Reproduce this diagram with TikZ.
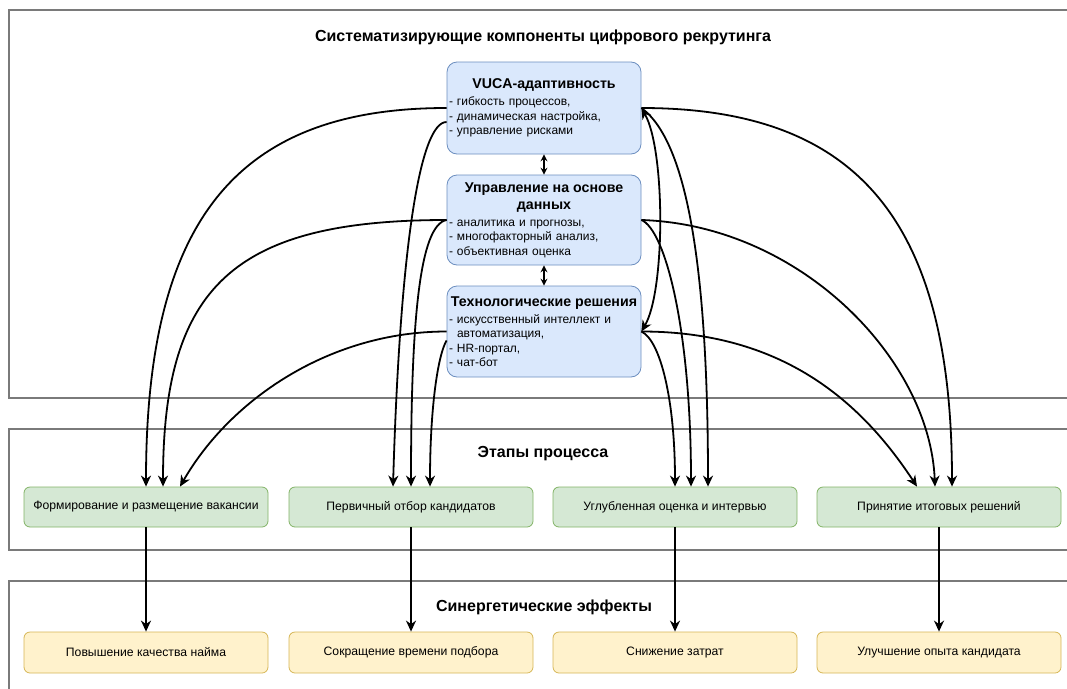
\documentclass[tikz,border=0pt]{standalone}
\usepackage{fontspec}
\setmainfont{Liberation Sans}
\usetikzlibrary{arrows.meta,calc}

\definecolor{bluefill}{HTML}{DAE8FC}
\definecolor{bluedraw}{HTML}{6C8EBF}
\definecolor{greenfill}{HTML}{D5E8D4}
\definecolor{greendraw}{HTML}{82B366}
\definecolor{yellowfill}{HTML}{FFF2CC}
\definecolor{yellowdraw}{HTML}{D6B656}
\definecolor{framegray}{HTML}{7A7A7A}

% bold centred heading inside a component box
\newcommand{\comptitle}[1]{{\centering\fontsize{14.2}{17}\selectfont\bfseries #1\par}\vspace{2.5pt}}

\tikzset{
  container/.style={draw=framegray, line width=1.3pt},
  sectiontitle/.style={font=\fontsize{16}{18}\selectfont\bfseries, inner sep=0pt},
  component/.style={draw=bluedraw, fill=bluefill, rounded corners=10pt, line width=0.8pt,
    minimum width=194pt, text width=190pt, inner xsep=2pt, align=left,
    font=\fontsize{12}{14.5}\selectfont},
  stagebox/.style={draw=greendraw, fill=greenfill, rounded corners=6pt, line width=0.8pt,
    minimum width=244pt, minimum height=40pt, font=\fontsize{12.2}{14}\selectfont},
  effectbox/.style={draw=yellowdraw, fill=yellowfill, rounded corners=6pt, line width=0.8pt,
    minimum width=244pt, minimum height=41pt, font=\fontsize{12.2}{14}\selectfont},
  tip/.tip={Stealth[length=11pt,width=10pt,inset=3.5pt]},
  smalltip/.tip={Stealth[length=7pt,width=7pt,inset=2.5pt]},
  link/.style={line width=1.8pt, -tip},
  twoway/.style={line width=1.8pt, tip-tip},
  shortlink/.style={line width=1.3pt, smalltip-smalltip}
}

\begin{document}
\begin{tikzpicture}[x=1pt, y=-1pt]
\useasboundingbox (0,0) rectangle (1067,688);

% section frames (they run past the right edge)
\draw[container] (1090,10) -- (9,10) -- (9,398) -- (1090,398);
\draw[container] (1090,429) -- (9,429) -- (9,550) -- (1090,550);
\draw[container] (1090,581) -- (9,581) -- (9,700);

% section headings
\node[sectiontitle] (t1) at (543,37) {Систематизирующие компоненты цифрового рекрутинга};
\node[sectiontitle] (t2) at (543,454) {Этапы процесса};
\node[sectiontitle] (t3) at (544,607) {Синергетические эффекты};

% components
\node[component, minimum height=92pt] (vuca) at (544,108)
  {\comptitle{VUCA-адаптивность}- гибкость процессов,\\- динамическая настройка,\\- управление рисками};
\node[component, minimum height=90pt] (data) at (544,220)
  {\comptitle{Управление на основе\\данных}- аналитика и прогнозы,\\- многофакторный анализ,\\- объективная оценка};
\node[component, minimum height=91pt] (tech) at (544,331.5)
  {\comptitle{Технологические решения}- искусственный интеллект и\\\hspace*{8pt}автоматизация,\\- HR-портал,\\- чат-бот};

% process stages
\node[stagebox] (g1) at (146,507) {Формирование и размещение вакансии};
\node[stagebox] (g2) at (411,507) {Первичный отбор кандидатов};
\node[stagebox] (g3) at (675,507) {Углубленная оценка и интервью};
\node[stagebox] (g4) at (939,507) {Принятие итоговых решений};

% effects
\node[effectbox] (y1) at (146,652.5) {Повышение качества найма};
\node[effectbox] (y2) at (411,652.5) {Сокращение времени подбора};
\node[effectbox] (y3) at (675,652.5) {Снижение затрат};
\node[effectbox] (y4) at (939,652.5) {Улучшение опыта кандидата};

% links between components
\draw[shortlink] (vuca.south) -- (data.north);
\draw[shortlink] (data.south) -- (tech.north);
\draw[twoway] (vuca.east) .. controls +(24,42) and +(24,-41) .. (tech.east);

% components to stages, left side
\draw[link] (vuca.west) .. controls +(-211,0) and +(0,-265) .. (g1.north);
\draw[link] ($(vuca.west)+(0,14)$) .. controls +(-27,0) and +(7,-237) .. ($(g2.north)+(-18,0)$);
\draw[link] (data.west) .. controls +(-213,0) and +(0,-200) .. ($(g1.north)+(17,0)$);
\draw[link] (data.west) .. controls +(-27,5) and +(0,-167) .. (g2.north);
\draw[link] (tech.west) .. controls +(-117,0) and +(50,-87) .. ($(g1.north)+(34,0)$);
\draw[link] ($(tech.west)+(0,9)$) .. controls +(-9,15) and +(0,-77) .. ($(g2.north)+(19,0)$);

% components to stages, right side
\draw[link] (vuca.east) .. controls +(217,0) and +(0,-265) .. ($(g4.north)+(13,0)$);
\draw[link] (vuca.east) .. controls +(44,32) and +(0,-227) .. ($(g3.north)+(33,0)$);
\draw[link] (data.east) .. controls +(159,5) and +(-5,-127) .. ($(g4.north)+(-4,0)$);
\draw[link] (data.east) .. controls +(24,10) and +(0,-157) .. ($(g3.north)+(16,0)$);
\draw[link] (tech.east) .. controls +(139,0) and +(-57,-87) .. ($(g4.north)+(-22,0)$);
\draw[link] (tech.east) .. controls +(19,9) and +(0,-87) .. (g3.north);

% stages to effects
\draw[link] (g1.south) -- (y1.north);
\draw[link] (g2.south) -- (y2.north);
\draw[link] (g3.south) -- (y3.north);
\draw[link] (g4.south) -- (y4.north);
\end{tikzpicture}
\end{document}
